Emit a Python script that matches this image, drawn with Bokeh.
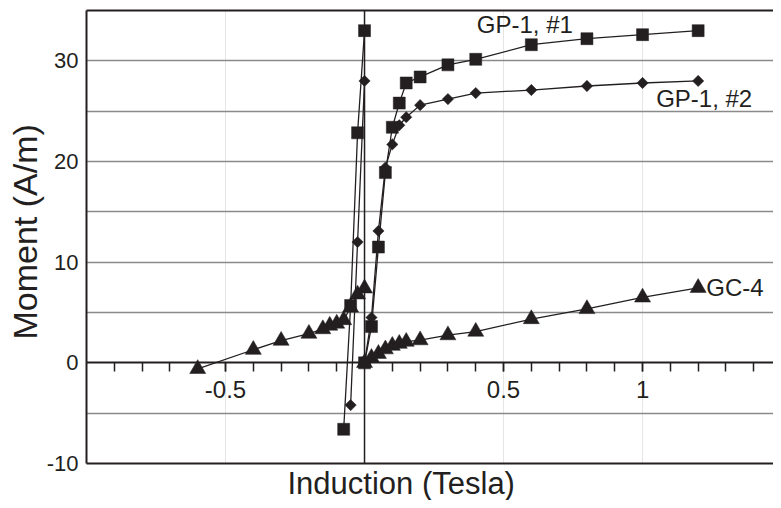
from bokeh.plotting import figure
from bokeh.models import (LinearAxis, FixedTicker, Range1d, Label, Span, Grid, Title,
                          CustomJSTickFormatter)
from bokeh.embed import file_html
from bokeh.resources import INLINE
import math

# ---------------- data ----------------
# GP-1, #1 (squares)
gp1a_up_x = [0, 0.025, 0.05, 0.075, 0.1, 0.125, 0.15, 0.2, 0.3, 0.4, 0.6, 0.8, 1.0, 1.2]
gp1a_up_y = [0, 3.6, 11.5, 18.9, 23.4, 25.8, 27.8, 28.4, 29.6, 30.15, 31.6, 32.2, 32.6, 33.0]
gp1a_dn_x = [0, -0.025, -0.05, -0.075]
gp1a_dn_y = [33.0, 22.85, 5.7, -6.6]

# GP-1, #2 (diamonds)
gp1b_up_x = [0, 0.025, 0.05, 0.075, 0.1, 0.125, 0.15, 0.2, 0.3, 0.4, 0.6, 0.8, 1.0, 1.2]
gp1b_up_y = [0, 4.5, 13.1, 19.4, 21.7, 23.6, 24.4, 25.6, 26.2, 26.8, 27.1, 27.5, 27.8, 28.0]
gp1b_dn_x = [0, -0.025, -0.05]
gp1b_dn_y = [28.0, 12.0, -4.2]

# GC-4 (triangles)
gc4_up_x = [0, 0.025, 0.05, 0.075, 0.1, 0.125, 0.15, 0.2, 0.3, 0.4, 0.6, 0.8, 1.0, 1.2]
gc4_up_y = [0, 0.5, 0.9, 1.35, 1.7, 1.9, 2.1, 2.25, 2.75, 3.1, 4.35, 5.35, 6.5, 7.45]
gc4_dn_x = [0, -0.025, -0.05, -0.075, -0.1, -0.125, -0.15, -0.2, -0.3, -0.4, -0.6]
gc4_dn_y = [7.4, 6.8, 5.5, 4.25, 3.9, 3.7, 3.35, 2.9, 2.2, 1.3, -0.6]

x_major_ticks = [-0.5, 0.5, 1.0]
x_minor_ticks = [-0.9, -0.8, -0.7, -0.6, -0.5, -0.4, -0.3, -0.2, -0.1, 0.1, 0.2, 0.3,
                 0.4, 0.5, 0.6, 0.7, 0.8, 0.9, 1.0, 1.1, 1.2, 1.3, 1.4]
y_major_ticks = [-10, 0, 10, 20, 30]
y_grid_ticks = [-5, 5, 10, 15, 20, 25, 30]

INK = "#231f20"
FONT = "Liberation Sans"

p = figure(width=773, height=500, x_range=Range1d(-1, 1.471), y_range=Range1d(-10, 35),
           output_backend="svg", toolbar_location=None,
           x_axis_location=None, y_axis_location=None,
           min_border_left=86, min_border_top=10, min_border_right=0, min_border_bottom=37)
p.outline_line_color = None
p.background_fill_color = "white"
p.border_fill_color = "white"

# gridlines
g = Grid(dimension=1, ticker=FixedTicker(ticks=y_grid_ticks),
         grid_line_color="#8a8a8a", grid_line_width=1.5)
p.add_layout(g)

# y axis (left)
yax = LinearAxis(ticker=FixedTicker(ticks=y_major_ticks, minor_ticks=[]),
                 formatter=CustomJSTickFormatter(code="return tick.toString()"))
yax.axis_line_width = 2
yax.axis_line_color = INK
yax.major_tick_out = 0
yax.major_tick_in = 0
yax.minor_tick_out = 0
yax.minor_tick_in = 0
yax.major_label_standoff = 8
yax.major_label_text_font = FONT
yax.major_label_text_font_size = "22px"
yax.major_label_text_color = INK
p.add_layout(yax, "left")

# y axis title
p.add_layout(Title(text="Moment (A/m)", align="left", offset=124, standoff=0,
                   vertical_align="bottom", text_font=FONT, text_font_size="34px",
                   text_font_style="normal", text_color=INK), "left")

# x axis at y = 0
xax = LinearAxis(ticker=FixedTicker(ticks=x_major_ticks, minor_ticks=x_minor_ticks),
                 fixed_location=0,
                 formatter=CustomJSTickFormatter(code="return tick.toString()"))
xax.axis_line_width = 1.8
xax.axis_line_color = INK
xax.major_tick_out = 9
xax.major_tick_in = 0
xax.minor_tick_out = 9
xax.minor_tick_in = 0
xax.major_tick_line_width = 1.5
xax.minor_tick_line_width = 1.5
xax.major_tick_line_color = INK
xax.minor_tick_line_color = INK
xax.major_label_standoff = 9
xax.major_label_text_font = FONT
xax.major_label_text_font_size = "24px"
xax.major_label_text_color = INK
p.add_layout(xax, "below")

# bottom frame line
bax = LinearAxis(ticker=FixedTicker(ticks=[], minor_ticks=[]))
bax.axis_line_width = 2
bax.axis_line_color = INK
bax.major_tick_out = 0
bax.minor_tick_out = 0
bax.major_label_text_font_size = "0px"
p.add_layout(bax, "below")

# x axis title
p.add_layout(Title(text="Induction (Tesla)", align="left", offset=201, standoff=0,
                   vertical_align="bottom", text_font=FONT, text_font_size="31px",
                   text_font_style="normal", text_color=INK), "below")

# top frame line
tax = LinearAxis(ticker=FixedTicker(ticks=[], minor_ticks=[]))
tax.axis_line_width = 2
tax.axis_line_color = INK
tax.major_tick_out = 0
tax.minor_tick_out = 0
tax.major_label_text_font_size = "0px"
p.add_layout(tax, "above")

# vertical line at x = 0
p.add_layout(Span(location=0, dimension="height", line_color=INK, line_width=1.5))

LW = 1.3
series = [
    (gp1a_up_x, gp1a_up_y, "square", 12, 0.0),
    (gp1a_dn_x, gp1a_dn_y, "square", 12, 0.0),
    (gp1b_up_x, gp1b_up_y, "square", 8, math.pi / 4),
    (gp1b_dn_x, gp1b_dn_y, "square", 8, math.pi / 4),
    (gc4_up_x, gc4_up_y, "triangle", 16, 0.0),
    (gc4_dn_x, gc4_dn_y, "triangle", 16, 0.0),
]
for xs, ys, mk, sz, ang in series:
    p.line(xs, ys, line_color=INK, line_width=LW)
for xs, ys, mk, sz, ang in series:
    p.scatter(xs, ys, marker=mk, size=sz, angle=ang, fill_color=INK, line_color=INK, line_width=0.5)

# series annotations
for tx, lx, ly in [("GP-1, #1", 0.404, 33.59),
                   ("GP-1, #2", 1.049, 26.24),
                   ("GC-4", 1.229, 7.45)]:
    p.add_layout(Label(x=lx, y=ly, text=tx, text_font=FONT, text_font_size="24px",
                       text_color=INK, text_baseline="middle", text_align="left"))

open("out.html", "w").write(file_html(p, INLINE))
